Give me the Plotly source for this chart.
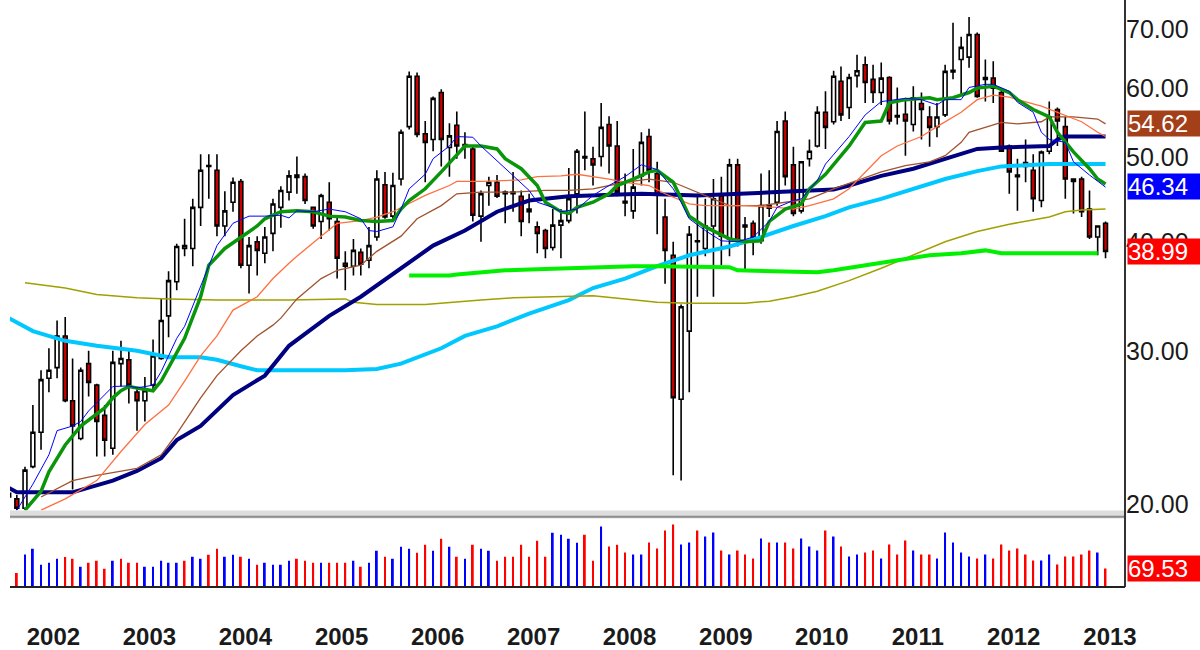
import math
import pandas as pd
import plotly.graph_objects as go

# monthly bars Jul 2001 .. Dec 2012 (the first one is cut by the left edge)
months = pd.date_range("2001-07-01", "2012-12-01", freq="MS") + pd.Timedelta(days=14)

opens = [20.6, 20.3, 19.8, 22.1, 24.2, 27.9, 28.7, 31.2, 26.3, 23.8,
         29.0, 27.4, 25.3, 23.2, 29.0, 29.3, 26.9, 26.3, 27.4, 29.4,
         32.9, 36.0, 39.3, 39.3, 43.8, 48.8, 48.3, 41.7, 44.4, 46.9,
         37.6, 40.0, 38.8, 40.9, 43.8, 45.6, 47.4, 47.5, 43.8, 42.2,
         44.4, 42.2, 37.8, 37.5, 38.9, 38.1, 40.5, 46.5, 42.8, 47.2,
         54.2, 61.9, 53.2, 52.4, 59.3, 51.3, 54.4, 51.7, 51.1, 42.8,
         46.4, 46.8, 45.6, 45.4, 45.1, 43.3, 41.6, 41.2, 39.4, 41.8,
         42.3, 45.4, 49.9, 49.8, 50.1, 54.5, 51.5, 44.5, 43.4, 47.6,
         52.8, 47.9, 42.7, 38.6, 26.4, 31.6, 40.1, 39.3, 41.7, 45.1,
         40.3, 49.0, 41.8, 42.0, 40.1, 44.0, 44.4, 55.0, 49.0, 43.4,
         49.8, 51.5, 56.3, 54.9, 61.1, 57.0, 62.0, 63.8, 61.4, 59.3,
         61.7, 55.8, 56.0, 54.5, 57.6, 55.6, 54.2, 55.9, 62.6, 64.7,
         65.1, 69.1, 61.7, 61.6, 59.3, 51.5, 47.7, 49.3, 48.3, 44.6,
         50.8, 56.7, 54.2, 47.2, 47.2, 43.6, 40.5, 42.0]
highs = [23.6, 20.5, 22.1, 26.0, 28.5, 30.2, 32.5, 32.8, 29.4, 28.7,
         30.0, 27.5, 26.0, 30.0, 30.8, 30.0, 27.1, 28.0, 30.9, 34.4,
         37.0, 39.8, 42.5, 44.8, 50.4, 50.4, 50.4, 45.7, 47.4, 47.2,
         40.5, 40.6, 41.6, 44.8, 46.3, 48.3, 50.1, 47.9, 43.9, 45.4,
         46.8, 42.7, 39.0, 40.3, 39.3, 41.6, 48.3, 48.1, 48.0, 53.8,
         62.7, 62.5, 55.0, 58.7, 59.8, 54.7, 56.4, 53.4, 51.4, 45.8,
         47.5, 47.7, 45.8, 48.1, 45.8, 45.4, 42.2, 41.4, 43.6, 43.6,
         48.6, 51.1, 56.4, 51.4, 57.7, 55.7, 55.0, 47.9, 51.1, 53.4,
         53.9, 49.4, 44.8, 40.0, 33.9, 41.7, 45.4, 44.8, 47.2, 47.5,
         49.8, 49.8, 42.7, 42.3, 47.9, 48.3, 55.0, 56.4, 51.4, 49.5,
         52.4, 57.2, 59.5, 62.8, 63.5, 62.3, 65.5, 65.2, 63.8, 64.2,
         61.9, 60.1, 58.5, 60.3, 59.3, 57.2, 57.7, 63.8, 71.3, 68.7,
         72.4, 69.5, 64.7, 64.4, 59.8, 51.7, 49.8, 52.4, 50.4, 50.9,
         57.9, 57.0, 55.6, 47.2, 47.5, 45.8, 41.7, 42.2]
lows = [19.7, 19.7, 19.7, 22.0, 23.1, 26.9, 27.9, 26.2, 20.8, 23.7,
        26.6, 22.7, 22.7, 22.8, 27.3, 26.1, 24.3, 24.9, 27.0, 29.3,
        31.1, 35.2, 38.5, 37.5, 41.7, 44.8, 40.6, 40.6, 43.3, 37.3,
        34.9, 36.6, 37.8, 39.0, 41.5, 44.6, 45.4, 44.2, 41.4, 40.3,
        41.2, 36.3, 35.2, 36.6, 36.6, 37.3, 40.1, 42.5, 42.5, 46.4,
        53.8, 52.7, 46.8, 50.8, 48.8, 47.5, 49.8, 49.8, 42.2, 40.0,
        44.0, 44.9, 42.0, 43.3, 40.6, 42.0, 38.8, 38.3, 39.1, 38.3,
        42.0, 43.1, 48.3, 46.4, 48.8, 47.9, 45.1, 42.8, 42.5, 46.4,
        46.8, 40.8, 35.8, 21.6, 21.3, 26.9, 34.6, 38.5, 34.6, 37.6,
        38.5, 39.5, 37.0, 38.6, 39.8, 42.7, 44.0, 46.4, 42.8, 43.1,
        48.8, 51.3, 51.1, 54.5, 55.0, 55.3, 60.1, 57.7, 57.7, 57.4,
        54.5, 54.5, 50.2, 53.5, 52.4, 51.4, 52.7, 55.6, 61.4, 59.0,
        63.3, 58.5, 57.9, 57.7, 50.7, 45.4, 43.4, 46.8, 43.3, 43.8,
        50.4, 51.5, 44.8, 43.1, 42.7, 40.3, 38.6, 38.3]
closes = [20.4, 19.8, 21.9, 24.2, 27.8, 28.5, 31.2, 26.3, 24.6, 28.5,
          27.6, 24.9, 23.7, 29.1, 29.4, 27.4, 26.3, 27.0, 29.6, 32.5,
          36.1, 39.5, 39.6, 43.8, 48.3, 48.9, 41.7, 43.4, 46.8, 37.6,
          39.6, 39.1, 40.5, 44.2, 45.8, 47.6, 47.7, 44.6, 41.7, 45.2,
          42.5, 38.3, 37.5, 39.1, 37.7, 39.6, 47.2, 42.7, 46.4, 53.4,
          61.9, 53.1, 52.0, 58.4, 52.4, 52.9, 51.5, 51.5, 42.9, 45.4,
          46.8, 45.1, 45.4, 45.6, 42.2, 43.6, 40.9, 39.3, 41.8, 42.3,
          44.8, 50.8, 50.1, 49.0, 54.1, 51.5, 45.6, 44.3, 46.2, 52.0,
          48.3, 45.3, 39.1, 26.5, 33.7, 40.8, 40.0, 41.7, 44.8, 40.6,
          49.0, 40.1, 41.6, 40.4, 44.0, 43.7, 53.5, 47.5, 43.1, 49.4,
          50.8, 56.3, 54.1, 61.9, 55.9, 61.7, 62.8, 60.9, 59.3, 61.6,
          55.0, 55.6, 55.0, 58.5, 56.7, 54.1, 55.6, 62.7, 62.9, 66.8,
          69.1, 58.7, 61.4, 60.0, 50.8, 48.1, 47.5, 48.8, 44.8, 50.7,
          55.6, 55.0, 47.2, 46.9, 43.3, 40.5, 41.7, 38.99]

# volume, Aug 2001 .. Dec 2012; b = blue (up), r = red (down)
volume = [52.1, 121.7, 142.8, 83.2, 90.6, 105.5, 111.7, 105.5, 75.7, 90.6,
          98.1, 68.3, 98.1, 105.5, 90.6, 90.6, 75.7, 75.7, 98.1, 90.6,
          90.6, 98.1, 113.0, 105.5, 120.4, 142.8, 113.0, 120.4, 113.0, 105.5,
          83.2, 90.6, 83.2, 83.2, 98.1, 105.5, 98.1, 90.6, 90.6, 90.6,
          90.6, 90.6, 98.1, 75.7, 90.6, 135.3, 113.0, 105.5, 150.2, 142.8,
          127.9, 157.7, 135.3, 180.0, 150.2, 113.0, 105.5, 157.7, 142.8, 135.3,
          98.1, 113.0, 113.0, 157.7, 113.0, 172.6, 113.0, 202.4, 194.9, 180.0,
          165.1, 194.9, 98.1, 226.0, 151.5, 157.7, 129.1, 121.7, 121.7, 166.4,
          144.0, 211.1, 233.4, 158.9, 166.4, 211.1, 188.7, 203.6, 136.6, 121.7,
          136.6, 121.7, 106.8, 181.3, 166.4, 166.4, 166.4, 144.0, 181.3, 151.5,
          136.6, 211.1, 188.7, 151.5, 114.2, 121.7, 129.1, 136.6, 106.8, 158.9,
          121.7, 173.8, 136.6, 121.7, 121.7, 106.8, 203.6, 166.4, 129.1, 114.2,
          106.8, 121.7, 106.8, 158.9, 136.6, 144.0, 121.7, 99.3, 99.3, 121.7,
          84.4, 114.2, 114.2, 121.7, 136.6, 129.1, 69.53]
vol_dir = ("rbbbbbrrbr" "rrbrrrbbbb" "brbbrrbbrb" "rbbbbrrrbr" "rrbrbbrbbb"
           "rrbrbrbrbb" "rrrrrrrbbb" "brrbrrrbbr" "rrrbbrbbrb" "rrrbrbrrbb"
           "brbrbbrrbr" "rrbrrbbbbb" "rbrrrrrrbb" "rrrrrbr")

# moving averages: k = month number, 0 = Aug 2001
navy_k = [-1, 0, 7, 12, 15, 18, 20, 23, 27, 31, 34, 39, 43, 48, 52, 56, 60, 64, 69, 78,
          85, 95, 102, 104, 108, 112, 116, 120, 123, 129, 130, 131, 136]
navy_v = [20.9, 20.65, 20.65, 21.3, 21.85, 22.6, 23.7, 24.6, 26.7, 28.1, 30.4, 32.9, 34.6,
          37.3, 39.6, 41.2, 43.3, 44.6, 45.1, 45.4, 45.2, 45.6, 45.9, 46.4, 47.6, 48.5,
          49.8, 51.1, 51.3, 51.5, 52.4, 52.8, 52.8]

blue_k = [0, 2, 4, 5, 7, 8, 9, 11, 12, 14, 15, 17, 18, 19, 20, 21, 23, 25, 27, 29,
          31, 33, 34, 35, 37, 39, 41, 43, 44, 45, 47, 48, 49, 51, 52, 54, 55, 57, 58, 60,
          62, 64, 65, 67, 68, 70, 72, 74, 76, 78, 80, 82, 83, 84, 86, 88, 90, 92, 94, 95,
          97, 98, 100, 101, 104, 106, 108, 109, 111, 113, 115, 116, 118, 119, 121, 122,
          124, 125, 127, 128, 129, 131, 132, 134, 136]
blue_v = [19.7, 21.1, 22.8, 24.3, 24.6, 24.9, 25.6, 26.7, 27.3, 27.35, 27.2, 27.4, 28.4,
          29.6, 31.0, 32.0, 35.6, 39.6, 42.0, 42.8, 42.8, 42.9, 42.6, 43.4, 43.3, 43.6,
          43.3, 42.5, 41.2, 41.1, 41.6, 43.6, 46.0, 47.8, 49.8, 51.5, 52.8, 52.7, 51.5,
          49.5, 47.6, 45.8, 44.4, 43.8, 43.3, 43.6, 45.2, 46.4, 47.5, 49.0, 48.4, 46.0,
          44.4, 42.5, 41.2, 40.1, 40.0, 40.5, 42.2, 43.8, 44.6, 44.8, 47.0, 49.1, 52.8,
          55.9, 57.9, 58.1, 58.4, 58.2, 57.4, 58.2, 58.2, 60.1, 60.6, 60.6, 59.5, 57.8,
          56.3, 53.4, 52.4, 52.0, 49.4, 47.7, 46.2]

green_k = [1, 3, 4, 6, 8, 9, 11, 12, 13, 14, 15, 17, 18, 19, 21, 23, 24, 26, 28, 30,
           31, 33, 35, 37, 39, 41, 43, 45, 47, 48, 49, 51, 53, 55, 56, 58, 60, 61, 63, 65,
           66, 68, 69, 70, 72, 74, 75, 77, 79, 80, 82, 83, 84, 86, 88, 89, 91, 93, 94, 96,
           98, 99, 101, 104, 106, 108, 109, 111, 114, 115, 117, 119, 120, 122, 124, 125,
           127, 129, 130, 132, 134, 135, 136]
green_v = [19.7, 20.7, 21.8, 23.4, 24.6, 25.0, 25.8, 26.5, 27.0, 27.3, 27.2, 27.0, 27.7,
           28.7, 31.0, 34.6, 37.6, 39.3, 40.5, 41.7, 42.5, 43.3, 43.4, 43.3, 42.8, 42.7,
           42.3, 42.2, 42.3, 43.6, 44.6, 46.0, 48.1, 50.2, 51.5, 51.5, 51.1, 49.8, 48.5,
           46.4, 44.4, 43.3, 43.1, 43.8, 44.4, 45.4, 46.4, 47.2, 48.1, 48.3, 46.8, 44.8,
           42.8, 41.6, 40.8, 40.3, 40.0, 40.1, 42.2, 43.6, 44.2, 46.0, 47.8, 51.5, 54.8,
           55.0, 57.7, 58.2, 58.5, 58.2, 58.5, 59.3, 60.0, 60.3, 59.3, 58.2, 56.7, 55.6,
           53.4, 50.7, 48.5, 47.2, 46.6]

orange_k = [3, 6, 10, 13, 16, 19, 21, 23, 25, 27, 30, 32, 34, 35, 38, 40, 43, 45, 47, 49,
            51, 54, 55, 58, 60, 63, 65, 68, 70, 72, 74, 76, 79, 81, 84, 86, 89, 91, 95, 97,
            99, 102, 104, 106, 108, 110, 113, 115, 118, 120, 122, 124, 125, 128, 130, 133,
            135, 136]
orange_v = [19.7, 20.3, 21.3, 23.0, 24.7, 26.0, 27.7, 29.6, 31.2, 33.4, 34.6, 36.3, 37.8,
            38.5, 40.6, 42.0, 42.3, 42.7, 43.3, 44.2, 45.2, 46.4, 46.9, 46.9, 47.0, 47.1,
            47.5, 47.6, 47.8, 47.5, 47.2, 46.8, 46.4, 45.4, 44.2, 44.0, 44.0, 44.0, 43.8,
            43.6, 44.0, 44.8, 46.0, 48.1, 50.2, 51.5, 52.8, 54.2, 56.3, 58.2, 58.9, 58.6,
            58.2, 57.2, 56.3, 54.9, 53.4, 52.8]

brown_k = [3, 7, 10, 15, 18, 20, 23, 25, 28, 30, 32, 33, 35, 38, 40, 43, 45, 48, 50, 53,
           55, 58, 62, 66, 69, 72, 76, 79, 82, 84, 87, 89, 93, 96, 99, 102, 104, 108, 111,
           114, 116, 118, 119, 121, 123, 125, 128, 129, 132, 135, 136]
brown_v = [20.4, 21.3, 21.6, 22.0, 22.8, 24.1, 26.5, 28.1, 30.0, 31.2, 32.1, 32.7, 34.4,
           36.3, 37.1, 37.6, 39.0, 40.6, 42.5, 44.0, 45.4, 45.6, 45.6, 45.8, 45.8, 46.0,
           46.8, 47.2, 46.8, 46.0, 44.8, 44.0, 44.0, 44.4, 44.8, 46.0, 46.7, 48.1, 48.9,
           49.4, 50.2, 52.0, 53.4, 54.1, 54.8, 54.6, 54.9, 55.6, 55.6, 55.3, 54.6]

cyan_k = [-1, 2, 6, 10, 15, 19, 23, 25, 28, 30, 36, 41, 45, 48, 53, 56, 60, 64, 69, 72,
          76, 80, 84, 89, 93, 97, 101, 104, 108, 112, 116, 120, 123, 129, 136]
cyan_v = [32.7, 31.6, 30.8, 30.4, 30.0, 29.5, 29.5, 29.3, 28.8, 28.5, 28.5, 28.5, 28.6,
          29.0, 30.2, 31.2, 32.0, 33.1, 34.3, 35.4, 36.3, 37.5, 38.6, 39.5, 40.5, 41.7,
          42.8, 43.8, 44.8, 46.0, 47.2, 48.2, 48.8, 49.1, 49.1]

olive_k = [1, 6, 10, 15, 19, 25, 34, 41, 42, 45, 51, 54, 58, 62, 69, 72, 76, 80, 84, 91,
           94, 97, 100, 104, 108, 112, 116, 120, 124, 129, 131, 133, 136]
olive_v = [35.9, 35.4, 34.8, 34.5, 34.4, 34.3, 34.3, 34.4, 34.1, 33.9, 33.9, 34.1, 34.3,
           34.5, 34.6, 34.7, 34.4, 34.1, 34.0, 34.0, 34.2, 34.6, 35.1, 36.1, 37.3, 38.6,
           40.0, 41.1, 41.9, 42.7, 43.3, 43.5, 43.6]

lime_k = [49, 54, 55, 60, 61, 65, 69, 71, 77, 80, 89, 90, 97, 100, 102, 106, 110, 114,
          118, 121, 123, 135]
lime_v = [36.6, 36.6, 36.7, 37.0, 37.1, 37.2, 37.3, 37.4, 37.5, 37.5, 37.4, 37.1, 36.9,
          36.9, 37.1, 37.6, 38.1, 38.6, 38.8, 39.1, 38.8, 38.8]

price_ticks = [20, 30, 40, 50, 60, 70]
years = list(range(2002, 2014))

# last values shown in the coloured boxes on the right
tags = [(54.62, "#a3401a", "y"), (46.34, "#0000ff", "y"),
        (38.99, "#ff0000", "y"), (69.53, "#ff0000", "y2")]


def at(ks):
    return [months[k + 1] for k in ks]


fig = go.Figure()

lines = [
    (cyan_k, cyan_v, "#00c8ff", 4),
    (olive_k, olive_v, "#a0a000", 1.5),
    (lime_k, lime_v, "#00f000", 4),
    (navy_k, navy_v, "#000080", 4),
    (brown_k, brown_v, "#a0522d", 1.3),
    (orange_k, orange_v, "#ff7040", 1.3),
    (green_k, green_v, "#0a960a", 3.5),
    (blue_k, blue_v, "#0000ff", 1),
]
for ks, vs, col, w in lines:
    fig.add_trace(go.Scatter(x=at(ks), y=vs, mode="lines",
                             line=dict(color=col, width=w), hoverinfo="skip"))

fig.add_trace(go.Candlestick(
    x=months, open=opens, high=highs, low=lows, close=closes,
    increasing=dict(line=dict(color="black", width=1.6), fillcolor="white"),
    decreasing=dict(line=dict(color="black", width=1.6), fillcolor="#cc0000"),
    xaxis="x", yaxis="y",
))

fig.add_trace(go.Bar(
    x=months[1:], y=volume, xaxis="x2", yaxis="y2",
    marker=dict(color=["#0000ff" if c == "b" else "#ff0000" for c in vol_dir], line_width=0),
    width=6.0e8,
))

x_range = ["2001-07-20", "2013-02-27"]
font_family = "Arial, Liberation Sans, sans-serif"

fig.update_layout(
    width=1200, height=650,
    margin=dict(l=10, r=75, t=0, b=60),
    paper_bgcolor="white", plot_bgcolor="white",
    showlegend=False,
    boxgap=0.25,
    xaxis=dict(domain=[0, 1], anchor="y", range=x_range, type="date",
               showticklabels=False, showgrid=False, zeroline=False,
               rangeslider=dict(visible=False)),
    yaxis=dict(domain=[0.1305, 1], anchor="x", type="log", side="right",
               range=[math.log10(19.69), math.log10(75.7)],
               tickvals=price_ticks, ticktext=[f"{v:.2f}" for v in price_ticks],
               showgrid=False, zeroline=False, ticks="",
               tickfont=dict(family=font_family, size=25, color="#1a1a1a")),
    xaxis2=dict(domain=[0, 1], anchor="y2", range=x_range, type="date",
                tickvals=[f"{y}-01-01" for y in years], ticktext=[str(y) for y in years],
                showgrid=False, zeroline=False, ticks="", ticklabelstandoff=33,
                tickfont=dict(family=font_family, size=24, color="#1a1a1a", weight="bold")),
    yaxis2=dict(domain=[0, 0.1153], anchor="x2", range=[0, 253], side="right",
                showticklabels=False, showgrid=False, zeroline=False),
)

# panel separator and frame
fig.add_shape(type="rect", xref="paper", yref="paper", x0=0, x1=1, y0=0.1169, y1=0.1305,
              fillcolor="#dedede", line_width=0)
fig.add_shape(type="line", xref="paper", yref="paper", x0=0, x1=1, y0=0.1195, y1=0.1195,
              line=dict(color="#8c8c8c", width=2))
fig.add_shape(type="line", xref="paper", yref="paper", x0=1, x1=1, y0=0, y1=1,
              line=dict(color="#333333", width=2))
fig.add_shape(type="line", xref="paper", yref="paper", x0=0, x1=1, y0=0, y1=0,
              line=dict(color="#222222", width=2))

for val, col, ax in tags:
    yv = math.log10(val) if ax == "y" else val
    fig.add_annotation(xref="paper", x=1, xshift=2, xanchor="left", yref=ax, y=yv,
                       text=f"{val:.2f}", showarrow=False, bgcolor=col, align="left",
                       width=76, height=25, borderpad=0,
                       font=dict(family=font_family, size=24, color="white"))

fig.write_html("out.html", config={"displayModeBar": False},
               post_script="document.body.style.margin='0';")
